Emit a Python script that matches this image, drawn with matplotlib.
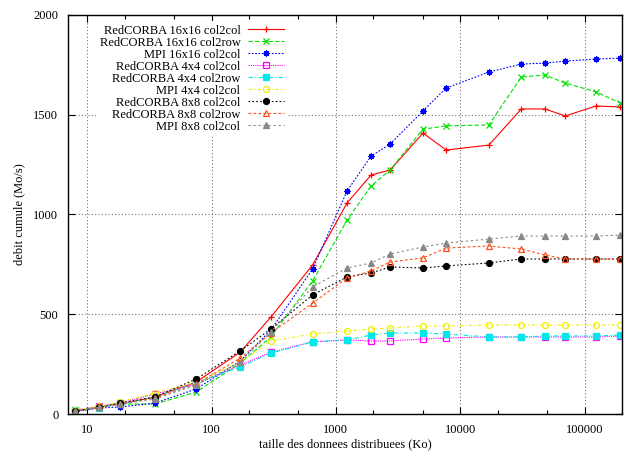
import matplotlib

matplotlib.use("Agg")
import matplotlib.pyplot as plt
from matplotlib.ticker import FixedLocator, LogLocator, NullFormatter

plt.rcParams["font.family"] = ["Liberation Serif", "DejaVu Serif"]
plt.rcParams["font.size"] = 9

# data (x: Ko, y: Mo/s)
taille = [8, 12.5, 18.3, 35, 75, 170, 300, 650, 1230, 1920, 2730, 5020, 7700,
          17000, 31000, 48000, 70000, 124000, 194000]

rc16_c2c = [15, 35, 50, 85, 160, 310, 486, 747, 1058, 1198, 1223, 1408, 1323,
            1348, 1529, 1529, 1494, 1544, 1539]
rc16_c2r = [15, 35, 50, 50, 110, 255, 386, 667, 972, 1143, 1223, 1428, 1444,
            1449, 1689, 1699, 1659, 1614, 1559]
mpi16 = [12, 30, 35, 55, 125, 265, 421, 727, 1118, 1293, 1353, 1519, 1634,
         1714, 1754, 1759, 1769, 1779, 1784]
rc4_c2c = [20, 38, 55, 100, 150, 245, 310, 362, 371, 366, 366, 376, 381,
           386, 386, 386, 386, 386, 391]
rc4_c2r = [18, 32, 50, 85, 155, 236, 305, 361, 371, 396, 406, 406, 401,
           386, 386, 391, 391, 391, 396]
mpi4 = [20, 38, 60, 105, 160, 260, 366, 401, 416, 426, 431, 441, 441,
        446, 446, 446, 446, 446, 446]
rc8_c2c = [15, 33, 55, 85, 175, 316, 426, 597, 687, 707, 737, 732, 742,
           757, 777, 777, 777, 777, 777]
rc8_c2r = [15, 33, 50, 80, 150, 280, 406, 556, 682, 717, 762, 782, 832,
           842, 827, 797, 777, 777, 777]
mpi8 = [15, 33, 50, 75, 145, 260, 411, 637, 732, 757, 802, 837, 857,
        877, 892, 892, 892, 892, 897]

series = [
    ("RedCORBA 16x16 col2col", rc16_c2c, "#ff0000", "-", "+", "full"),
    ("RedCORBA 16x16 col2row", rc16_c2r, "#00e000", (0, (4, 2)), "x", "full"),
    ("MPI 16x16 col2col", mpi16, "#0000ff", (0, (1.5, 1.5)), (8, 2, 0), "full"),
    ("RedCORBA 4x4 col2col", rc4_c2c, "#ff00ff", (0, (1, 1)), "s", "none"),
    ("RedCORBA 4x4 col2row", rc4_c2r, "#00e8e8", (0, (4, 2, 1, 2)), "s", "full"),
    ("MPI 4x4 col2col", mpi4, "#f0f000", (0, (3, 2, 1, 2)), "o", "none"),
    ("RedCORBA 8x8 col2col", rc8_c2c, "#000000", (0, (1.5, 2)), "o", "full"),
    ("RedCORBA 8x8 col2row", rc8_c2r, "#ff5020", (0, (2.5, 2)), "^", "none"),
    ("MPI 8x8 col2col", mpi8, "#888888", (0, (2, 2.5)), "^", "full"),
]

fig = plt.figure(figsize=(6.33, 4.54), dpi=100)
ax = fig.add_axes([0.1074, 0.0881, 0.8752, 0.8789])

for label, ys, color, ls, marker, fill in series:
    ax.plot(taille, ys, color=color, linestyle=ls, linewidth=0.8, marker=marker,
            markersize=4.3, markeredgewidth=0.9, fillstyle=fill,
            markerfacecolor=color if fill == "full" else "none",
            markeredgecolor=color, label=label)

ax.set_xscale("log")
ax.set_xlim(7, 200000)
ax.set_ylim(0, 2000)
ax.yaxis.set_major_locator(FixedLocator([0, 500, 1000, 1500, 2000]))
ax.xaxis.set_major_locator(FixedLocator([10, 100, 1000, 10000, 100000]))
ax.set_xticklabels(["10", "100", "1000", "10000", "100000"])
ax.xaxis.set_minor_locator(LogLocator(base=10, subs=(2.0, 5.0)))
ax.xaxis.set_minor_formatter(NullFormatter())

ax.tick_params(which="both", direction="in", top=True, right=True, width=0.8)
ax.tick_params(which="major", length=5, pad=7)
ax.tick_params(which="minor", length=3)
for sp in ax.spines.values():
    sp.set_linewidth(1.0)

ax.grid(True, which="major", color="0.45", linestyle=(0, (1, 2)), linewidth=0.8)
ax.set_axisbelow(True)

ax.set_xlabel("taille des donnees distribuees (Ko)", labelpad=2)
ax.set_ylabel("debit cumule (Mo/s)", labelpad=6)

leg = ax.legend(loc="upper right", bbox_to_anchor=(0.397, 0.985), frameon=True,
                markerfirst=False, handlelength=2.9, handletextpad=0.6,
                labelspacing=0.0, borderpad=0.3, borderaxespad=0,
                fontsize=9)
leg.get_frame().set_edgecolor("none")
leg.get_frame().set_facecolor("white")
leg.get_frame().set_alpha(1.0)
leg.get_frame().set_boxstyle("square", pad=0)

fig.savefig("out.png", dpi=100)
